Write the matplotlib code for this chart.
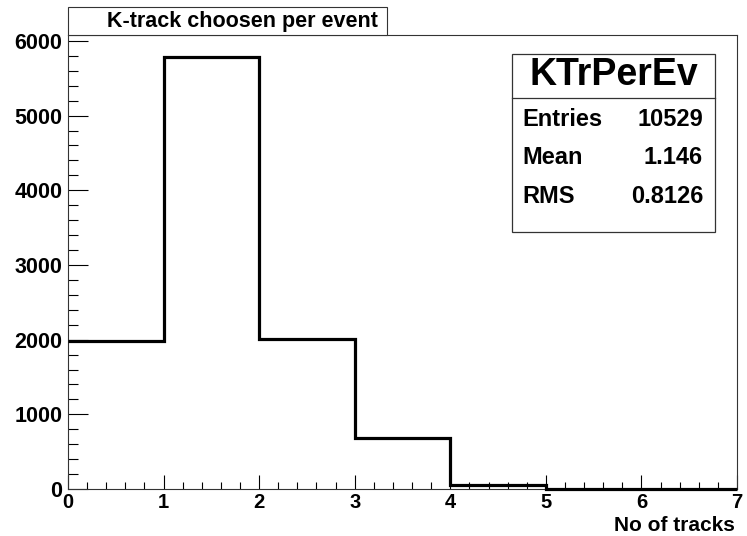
import matplotlib
matplotlib.use("Agg")
import matplotlib.pyplot as plt
from matplotlib.patches import Rectangle
from matplotlib.ticker import MultipleLocator

# Histogram contents: number of K tracks chosen per event
bin_edges = [0, 1, 2, 3, 4, 5, 6, 7]
counts = [1985, 5790, 2010, 680, 60, 5, 0]

hist_name = "KTrPerEv"
hist_title = "K-track choosen per event"
x_title = "No of tracks"
stat_labels = ["Entries", "Mean", "RMS"]
stat_values = ["10529", "1.146", "0.8126"]

W, H = 747, 536
plt.rcParams["font.family"] = ["Liberation Sans", "DejaVu Sans"]
plt.rcParams["font.weight"] = "bold"

fig = plt.figure(figsize=(W / 100, H / 100), dpi=100)


def fx(x):
    return x / W


def fy(y):
    return 1 - y / H


# Frame in pixels: left 68, right 737, top 35, bottom 489
ax = fig.add_axes([fx(68), fy(489), fx(737) - fx(68), fy(35) - fy(489)])

ax.stairs(counts, bin_edges, baseline=None, color="black", linewidth=2.3,
          clip_on=False, zorder=3)

ax.set_xlim(0, 7)
ax.set_ylim(0, max(counts) * 1.05)

ax.xaxis.set_major_locator(MultipleLocator(1))
ax.xaxis.set_minor_locator(MultipleLocator(0.2))
ax.yaxis.set_major_locator(MultipleLocator(1000))
ax.yaxis.set_minor_locator(MultipleLocator(200))

for s in ax.spines.values():
    s.set_linewidth(0.8)
    s.set_color("#333333")

ax.tick_params(axis="x", which="major", direction="in", length=9.8, width=0.8,
               labelsize=14.5, pad=3, top=False)
ax.tick_params(axis="x", which="minor", direction="in", length=4.9, width=0.8, top=False)
ax.tick_params(axis="y", which="major", direction="in", length=14.4, width=0.8,
               labelsize=15.5, pad=4, right=False)
ax.tick_params(axis="y", which="minor", direction="in", length=7.2, width=0.8, right=False)
for lab in ax.get_xticklabels() + ax.get_yticklabels():
    lab.set_fontweight("bold")

# Axis title at the right end below the axis
fig.text(fx(735), fy(531), x_title, ha="right", va="baseline",
         fontsize=15, fontweight="bold")

# Histogram title box
fig.patches.append(Rectangle((fx(68), fy(35)), fx(387) - fx(68), fy(7) - fy(35),
                             transform=fig.transFigure, facecolor="white",
                             edgecolor="#333333", linewidth=0.8))
fig.text(fx(242), fy(21), hist_title, ha="center", va="center",
         fontsize=15.5, fontweight="bold")

# Statistics box
bx0, bx1, by0, by1, sep = 512, 715, 54, 232, 98
fig.patches.append(Rectangle((fx(bx0), fy(by1)), fx(bx1) - fx(bx0), fy(by0) - fy(by1),
                             transform=fig.transFigure, facecolor="white",
                             edgecolor="#333333", linewidth=0.9, zorder=5))
fig.add_artist(plt.Line2D([fx(bx0), fx(bx1)], [fy(sep), fy(sep)],
                          transform=fig.transFigure, color="#333333", linewidth=0.9,
                          zorder=6))
fig.text(fx((bx0 + bx1) / 2), fy(75), hist_name, ha="center", va="center",
         fontsize=27, fontweight="bold", zorder=7)
row_y = [120, 158, 196]
for lab, val, yy in zip(stat_labels, stat_values, row_y):
    fig.text(fx(522), fy(yy), lab, ha="left", va="center",
             fontsize=17, fontweight="bold", zorder=7)
    fig.text(fx(703), fy(yy), val, ha="right", va="center",
             fontsize=17, fontweight="bold", zorder=7)

fig.savefig("out.png", dpi=100)
